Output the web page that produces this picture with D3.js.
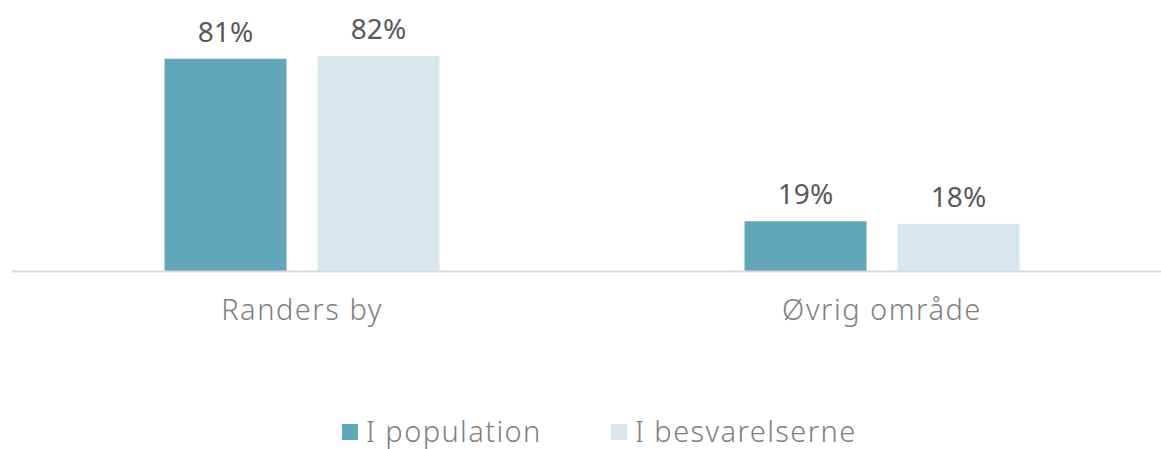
<!DOCTYPE html>
<html lang="da">
<head>
    <meta charset="UTF-8">
    <title>Chart</title>
    <script src="https://cdn.jsdelivr.net/npm/d3@7"></script>
    <style>
        body { margin: 0; background: #fff; }
        text { font-family: "Noto Sans", sans-serif; }
    </style>
</head>
<body>
    <script>
        const width = 1161;
        const height = 449;

        const categories = ['Randers by', 'Øvrig område'];
        const seriesNames = ['I population', 'I besvarelserne'];
        const population = [81, 19];
        const besvarelserne = [82, 18];
        const colors = ['#62a6b9', '#d6e8ed'];

        const svg = d3.select('body')
                      .append('svg')
                      .attr('width', width)
                      .attr('height', height);

        const x = d3.scaleBand()
                    .domain(categories)
                    .range([12, 1172]);

        // two bars of 122px with a 31px gap
        const inner = d3.scaleBand()
                        .domain(seriesNames)
                        .range([0, 275])
                        .paddingInner(31 / 153);

        const y = d3.scaleLinear()
                    .domain([0, 100])
                    .range([271, 9]);

        const rows = [];
        categories.forEach(function(c, i){
            rows.push({cat: c, series: seriesNames[0], value: population[i], color: colors[0]});
            rows.push({cat: c, series: seriesNames[1], value: besvarelserne[i], color: colors[1]});
        });

        const groupOffset = (x.bandwidth() - 275) / 2;

        svg.append('g')
            .selectAll('rect')
            .data(rows)
            .enter()
            .append('rect')
            .attr('x', function(d){ return x(d.cat) + groupOffset + inner(d.series); })
            .attr('y', function(d){ return y(d.value); })
            .attr('width', inner.bandwidth())
            .attr('height', function(d){ return y(0) - y(d.value); })
            .attr('fill', function(d){ return d.color; });

        svg.append('g')
            .selectAll('text')
            .data(rows)
            .enter()
            .append('text')
            .attr('x', function(d){ return x(d.cat) + groupOffset + inner(d.series) + inner.bandwidth() / 2; })
            .attr('y', function(d){ return y(d.value) - 17; })
            .attr('text-anchor', 'middle')
            .attr('font-size', 28)
            .attr('fill', '#595959')
            .text(function(d){ return d.value + '%'; });

        // baseline
        svg.append('line')
            .attr('x1', 12).attr('x2', width)
            .attr('y1', y(0) + 0.5).attr('y2', y(0) + 0.5)
            .attr('stroke', '#d9d9d9')
            .attr('stroke-width', 2);

        svg.append('g')
            .selectAll('text')
            .data(categories)
            .enter()
            .append('text')
            .attr('x', function(d){ return x(d) + x.bandwidth() / 2; })
            .attr('y', 320)
            .attr('text-anchor', 'middle')
            .attr('font-size', 29)
            .attr('font-weight', 300)
            .attr('letter-spacing', 1.5)
            .attr('fill', '#7f7f7f')
            .text(function(d){ return d; });

        // legend
        const legendX = [342, 611];
        const legend = svg.append('g');
        seriesNames.forEach(function(s, i){
            legend.append('rect')
                .attr('x', legendX[i]).attr('y', 424)
                .attr('width', 16).attr('height', 16)
                .attr('fill', colors[i]);
            legend.append('text')
                .attr('x', legendX[i] + 24).attr('y', 442)
                .attr('font-size', 29)
                .attr('font-weight', 300)
                .attr('letter-spacing', 1.4)
                .attr('fill', '#7f7f7f')
                .text(s);
        });
    </script>
</body>
</html>
